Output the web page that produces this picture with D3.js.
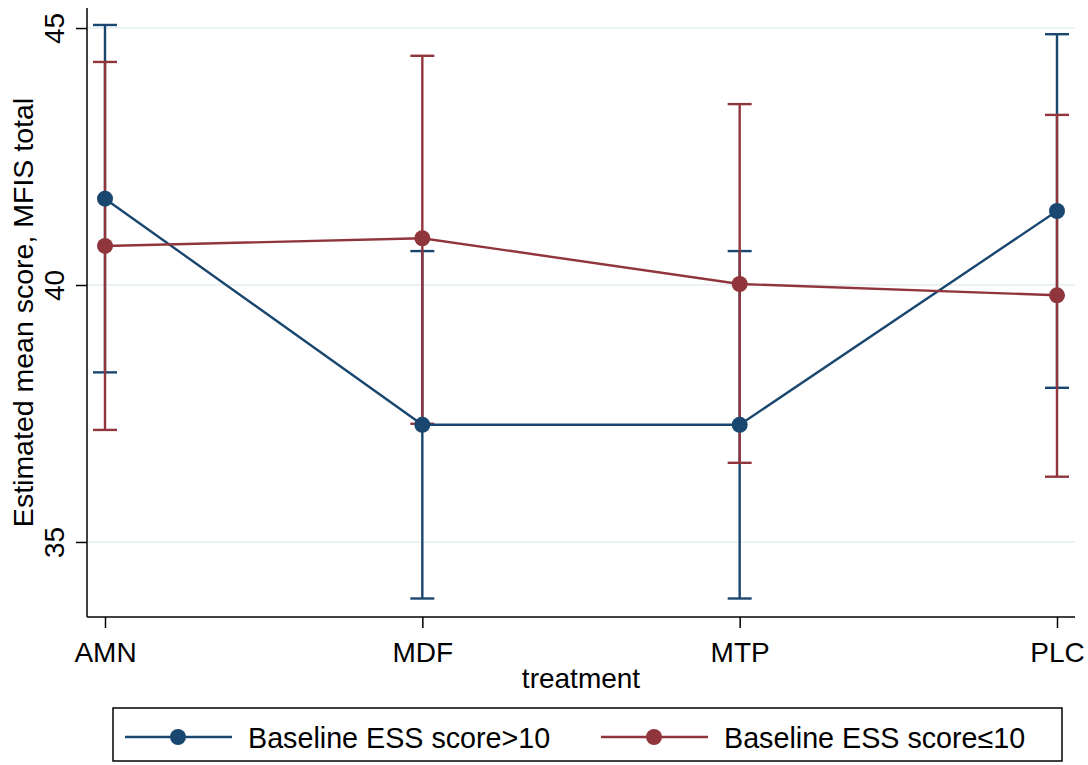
<!DOCTYPE html>
<html>
<head>
<meta charset="utf-8">
<script src="https://cdn.jsdelivr.net/npm/d3@7"></script>
<style>
  body { margin: 0; background: #fff; }
  svg { display: block; font-family: "Liberation Sans", Arial, sans-serif; }
</style>
</head>
<body>
<div id="chart"></div>
<script>
// categories and series
const treatments = ["AMN", "MDF", "MTP", "PLC"];
const seriesNames = ["Baseline ESS score>10", "Baseline ESS score\u226410"];
const highMean = [41.68, 37.28, 37.28, 41.44];
const highLower = [38.30, 33.90, 33.90, 38.00];
const highUpper = [45.06, 40.66, 40.66, 44.88];
const lowMean = [40.76, 40.91, 40.02, 39.80];
const lowLower = [37.18, 37.30, 36.54, 36.27];
const lowUpper = [44.34, 44.46, 43.52, 43.31];
const yTicks = [35, 40, 45];

const colors = ["#1a476f", "#90353b"];

const width = 1088, height = 765;
const plot = { left: 87, right: 1075, top: 8, bottom: 617 };

const svg = d3.select("#chart").append("svg")
    .attr("width", width)
    .attr("height", height);

const x = d3.scalePoint()
    .domain(treatments)
    .range([105, 1057]);

const y = d3.scaleLinear()
    .domain([33.54, 45.39])
    .range([plot.bottom, plot.top]);

// gridlines
svg.append("g")
    .selectAll("line")
    .data(yTicks)
    .enter()
    .append("line")
    .attr("x1", plot.left)
    .attr("x2", plot.right)
    .attr("y1", d => y(d))
    .attr("y2", d => y(d))
    .attr("stroke", "#eaf2f3")
    .attr("stroke-width", 2);

// y axis
const yAxis = svg.append("g")
    .attr("transform", `translate(${plot.left},0)`)
    .call(d3.axisLeft(y).tickValues(yTicks).tickSize(11).tickPadding(10).tickFormat(d3.format("d")));
yAxis.select(".domain").attr("d", `M0,${plot.top}V${plot.bottom}`).attr("stroke", "#000").attr("stroke-width", 1.5);
yAxis.selectAll(".tick line").attr("stroke", "#000").attr("stroke-width", 1.5);
yAxis.selectAll(".tick text")
    .attr("transform", "rotate(-90)")
    .attr("x", 0)
    .attr("y", -23)
    .attr("dy", 0)
    .attr("text-anchor", "middle")
    .style("font-size", "28px")
    .style("fill", "#000");

// x axis
const xAxis = svg.append("g")
    .attr("transform", `translate(0,${plot.bottom})`)
    .call(d3.axisBottom(x).tickSize(11).tickPadding(14));
xAxis.select(".domain").attr("d", `M${plot.left},0H${plot.right}`).attr("stroke", "#000").attr("stroke-width", 1.5);
xAxis.selectAll(".tick line").attr("stroke", "#000").attr("stroke-width", 1.5);
xAxis.selectAll(".tick text")
    .style("font-size", "28px")
    .style("fill", "#000");

// axis titles
svg.append("text")
    .attr("x", (plot.left + plot.right) / 2)
    .attr("y", 688)
    .attr("text-anchor", "middle")
    .style("font-size", "28px")
    .text("treatment");

svg.append("text")
    .attr("transform", `translate(33,${(plot.top + plot.bottom) / 2}) rotate(-90)`)
    .attr("text-anchor", "middle")
    .style("font-size", "28.5px")
    .text("Estimated mean score, MFIS total");

// series
const series = [
    { mean: highMean, lower: highLower, upper: highUpper, color: colors[0] },
    { mean: lowMean, lower: lowLower, upper: lowUpper, color: colors[1] }
];

const capHalf = 12;

series.forEach(s => {
    const g = svg.append("g");
    treatments.forEach((t, i) => {
        const cx = x(t);
        g.append("line")
            .attr("x1", cx).attr("x2", cx)
            .attr("y1", y(s.lower[i])).attr("y2", y(s.upper[i]))
            .attr("stroke", s.color).attr("stroke-width", 2.4);
        [s.lower[i], s.upper[i]].forEach(v => {
            g.append("line")
                .attr("x1", cx - capHalf).attr("x2", cx + capHalf)
                .attr("y1", y(v)).attr("y2", y(v))
                .attr("stroke", s.color).attr("stroke-width", 2.4);
        });
    });
});

series.forEach(s => {
    const g = svg.append("g");
    g.append("path")
        .datum(treatments.map((t, i) => [x(t), y(s.mean[i])]))
        .attr("d", d3.line())
        .attr("fill", "none")
        .attr("stroke", s.color)
        .attr("stroke-width", 2.4);
    g.selectAll("circle")
        .data(s.mean)
        .enter()
        .append("circle")
        .attr("cx", (d, i) => x(treatments[i]))
        .attr("cy", d => y(d))
        .attr("r", 8)
        .attr("fill", s.color);
});

// legend
const legend = svg.append("g");
legend.append("rect")
    .attr("x", 113).attr("y", 708)
    .attr("width", 949).attr("height", 53)
    .attr("fill", "#fff")
    .attr("stroke", "#000")
    .attr("stroke-width", 1.5);

const legendItems = [
    { x0: 125, name: seriesNames[0], color: colors[0] },
    { x0: 601, name: seriesNames[1], color: colors[1] }
];
legendItems.forEach(d => {
    const ly = 737;
    legend.append("line")
        .attr("x1", d.x0).attr("x2", d.x0 + 107)
        .attr("y1", ly).attr("y2", ly)
        .attr("stroke", d.color).attr("stroke-width", 2.4);
    legend.append("circle")
        .attr("cx", d.x0 + 53).attr("cy", ly)
        .attr("r", 8).attr("fill", d.color);
    legend.append("text")
        .attr("x", d.x0 + 123).attr("y", ly + 11)
        .style("font-size", "28.7px")
        .text(d.name);
});
</script>
</body>
</html>
